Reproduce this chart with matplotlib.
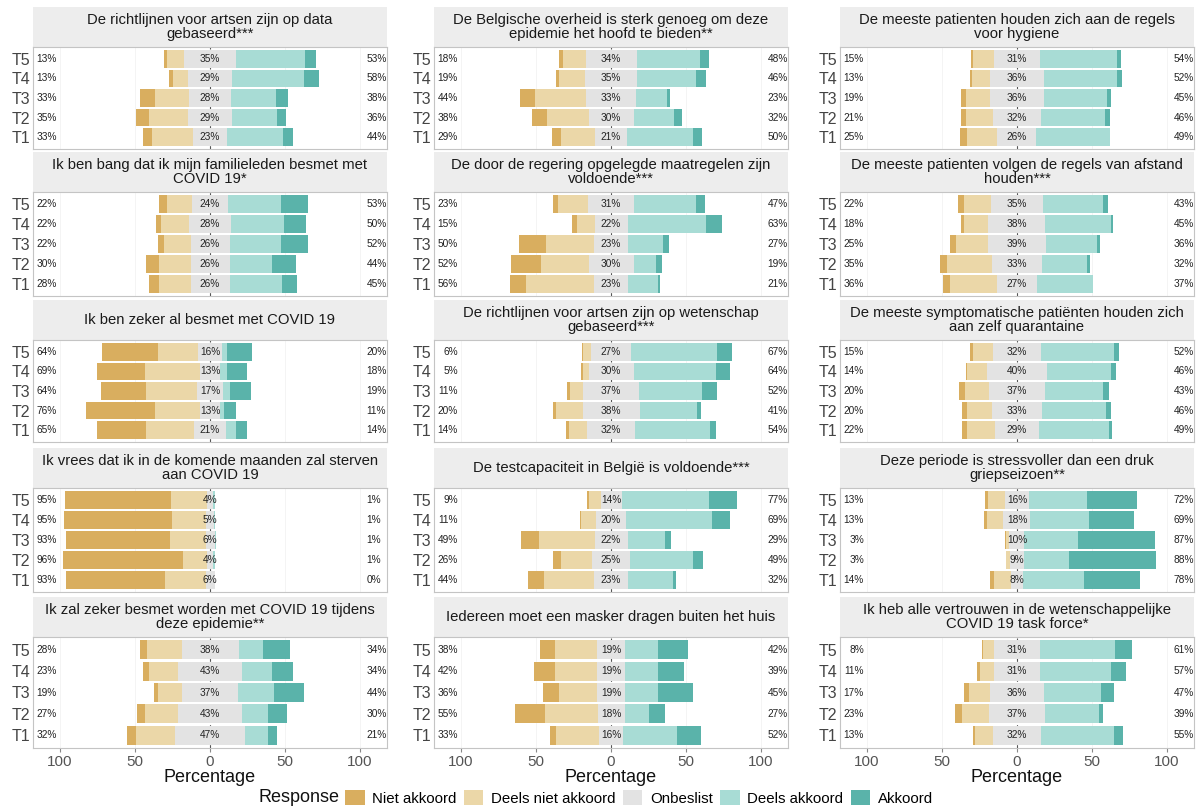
import matplotlib
matplotlib.use("Agg")
import matplotlib.pyplot as plt
from matplotlib.patches import Patch

plt.rcParams['font.family'] = ['Liberation Sans', 'DejaVu Sans']

# Survey waves (bottom to top) and response levels
waves = ["T1", "T2", "T3", "T4", "T5"]
levels = ["Niet akkoord", "Deels niet akkoord", "Onbeslist", "Deels akkoord", "Akkoord"]
level_colors = ["#D9AE5F", "#EBD7A8", "#E3E3E3", "#A8DCD5", "#5AB3AA"]

# Percentages per wave (rows T1..T5), columns follow `levels`
richtlijnen_data = [[6, 27, 23, 37, 7], [9, 26, 29, 30, 6], [10, 23, 28, 30, 8],
                    [3, 10, 29, 48, 10], [2, 11, 35, 46, 7]]
overheid_sterk = [[6, 23, 21, 44, 6], [10, 28, 30, 27, 5], [10, 34, 33, 21, 2],
                  [2, 17, 35, 39, 7], [3, 15, 34, 42, 6]]
regels_hygiene = [[5, 20, 26, 49, 0], [3, 18, 32, 43, 3], [3, 16, 36, 42, 3],
                  [1, 12, 36, 49, 3], [1, 14, 31, 51, 3]]
bang_familie = [[7, 21, 26, 35, 10], [9, 21, 26, 28, 16], [4, 18, 26, 34, 18],
                [3, 19, 28, 35, 15], [5, 17, 24, 35, 18]]
maatregelen_voldoende = [[11, 45, 23, 20, 1], [20, 32, 30, 15, 4], [18, 32, 23, 23, 4],
                         [3, 12, 22, 52, 11], [3, 20, 31, 41, 6]]
regels_afstand = [[5, 31, 27, 37, 0], [5, 30, 33, 30, 2], [4, 21, 39, 34, 2],
                  [2, 16, 38, 44, 1], [4, 18, 35, 40, 3]]
al_besmet = [[33, 32, 21, 7, 7], [46, 30, 13, 3, 8], [30, 34, 17, 5, 14],
             [32, 37, 13, 5, 13], [37, 27, 16, 3, 17]]
richtlijnen_wetenschap = [[2, 12, 32, 50, 4], [2, 18, 38, 38, 3], [2, 9, 37, 42, 10],
                          [1, 4, 30, 55, 9], [1, 5, 27, 57, 10]]
zelf_quarantaine = [[3, 19, 29, 47, 2], [3, 17, 33, 43, 3], [4, 16, 37, 39, 4],
                    [1, 13, 40, 43, 3], [2, 13, 32, 49, 3]]
vrees_sterven = [[66, 27, 6, 0, 0], [80, 16, 4, 1, 0], [69, 24, 6, 1, 0],
                 [72, 23, 5, 1, 0], [71, 24, 4, 1, 0]]
testcapaciteit = [[11, 33, 23, 30, 2], [5, 21, 25, 42, 7], [12, 37, 22, 25, 4],
                  [1, 10, 20, 57, 12], [1, 8, 14, 58, 19]]
stressvoller = [[3, 11, 8, 41, 37], [0, 3, 9, 30, 58], [1, 2, 10, 36, 51],
                [2, 11, 18, 39, 30], [2, 11, 16, 39, 33]]
zeker_besmet_worden = [[6, 26, 47, 15, 6], [5, 22, 43, 17, 13], [3, 16, 37, 24, 20],
                       [4, 19, 43, 20, 14], [5, 23, 38, 16, 18]]
masker_dragen = [[4, 29, 16, 36, 16], [20, 35, 18, 16, 11], [11, 25, 19, 22, 23],
                 [14, 28, 19, 22, 17], [10, 28, 19, 22, 20]]
vertrouwen_taskforce = [[1, 12, 32, 49, 6], [5, 18, 37, 36, 3], [3, 14, 36, 38, 9],
                        [2, 9, 31, 47, 10], [1, 7, 31, 50, 11]]

panel_titles = [
    "De richtlijnen voor artsen zijn op data\ngebaseerd***",
    "De Belgische overheid is sterk genoeg om deze\nepidemie het hoofd te bieden**",
    "De meeste patienten houden zich aan de regels\nvoor hygiene",
    "Ik ben bang dat ik mijn familieleden besmet met\nCOVID 19*",
    "De door de regering opgelegde maatregelen zijn\nvoldoende***",
    "De meeste patienten volgen de regels van afstand\nhouden***",
    "Ik ben zeker al besmet met COVID 19",
    "De richtlijnen voor artsen zijn op wetenschap\ngebaseerd***",
    "De meeste symptomatische patiënten houden zich\naan zelf quarantaine",
    "Ik vrees dat ik in de komende maanden zal sterven\naan COVID 19",
    "De testcapaciteit in België is voldoende***",
    "Deze periode is stressvoller dan een druk\ngriepseizoen**",
    "Ik zal zeker besmet worden met COVID 19 tijdens\ndeze epidemie**",
    "Iedereen moet een masker dragen buiten het huis",
    "Ik heb alle vertrouwen in de wetenschappelijke\nCOVID 19 task force*",
]
panel_data = [richtlijnen_data, overheid_sterk, regels_hygiene,
              bang_familie, maatregelen_voldoende, regels_afstand,
              al_besmet, richtlijnen_wetenschap, zelf_quarantaine,
              vrees_sterven, testcapaciteit, stressvoller,
              zeker_besmet_worden, masker_dragen, vertrouwen_taskforce]

x_ticks = [-100, -50, 0, 50, 100]
x_ticklabels = ["100", "50", "0", "50", "100"]

W, H = 1200, 807
fig = plt.figure(figsize=(W / 100, H / 100), dpi=100)

col_left = [33, 434, 840]
col_width = 354
strip_top = [7, 152, 300, 448, 597]
strip_h = 40
panel_h = [102, 104, 102, 104, 111]


def fig_box(x, y_top, w, h):
    return [x / W, 1 - (y_top + h) / H, w / W, h / H]


for idx, (title, rows) in enumerate(zip(panel_titles, panel_data)):
    r, c = divmod(idx, 3)
    x0 = col_left[c]

    # facet strip
    sax = fig.add_axes(fig_box(x0, strip_top[r], col_width, strip_h))
    sax.set_facecolor("#EDEDED")
    sax.set_xticks([])
    sax.set_yticks([])
    for s in sax.spines.values():
        s.set_visible(False)
    sax.text(0.5, 0.5, title, ha="center", va="center", fontsize=10.7,
             color="#1A1A1A", linespacing=1.05, transform=sax.transAxes)

    # diverging bars
    ax = fig.add_axes(fig_box(x0, strip_top[r] + strip_h, col_width, panel_h[r]))
    ypos = list(range(1, len(waves) + 1))
    for gx in (-100, -50, 50, 100):
        ax.axvline(gx, color="#F2F2F2", lw=0.6, zorder=0)
    ax.axvline(0, color="#555555", lw=0.8, ls=(0, (3, 3)), zorder=0.5)
    for y, vals in zip(ypos, rows):
        na, dna, neu, da, a = vals
        left = -(na + dna) - neu / 2
        for v, col in zip(vals, level_colors):
            if v > 0:
                ax.barh(y, v, left=left, height=0.9, color=col, edgecolor="none", zorder=2)
            left += v
        ax.text(-102, y, f"{na + dna}%", ha="right", va="center", fontsize=7.3,
                color="#222222", zorder=3)
        ax.text(0, y, f"{neu}%", ha="center", va="center", fontsize=7.3,
                color="#222222", zorder=3)
        ax.text(104.5, y, f"{da + a}%", ha="left", va="center", fontsize=7.3,
                color="#222222", zorder=3)
    ax.set_xlim(-118, 118)
    ax.set_ylim(0.4, 5.6)
    ax.set_yticks(ypos)
    ax.set_yticklabels(waves, fontsize=11.5, color="#444444")
    ax.tick_params(axis="y", length=0, pad=2)
    ax.set_xticks(x_ticks)
    for s in ax.spines.values():
        s.set_color("#C4C4C4")
        s.set_linewidth(0.8)
    if r == 4:
        ax.set_xticklabels(x_ticklabels, fontsize=11, color="#555555")
        ax.tick_params(axis="x", length=3, color="#888888", pad=2)
        ax.set_xlabel("Percentage", fontsize=13, color="#111111", labelpad=0)
    else:
        ax.tick_params(axis="x", length=0, labelbottom=False)

# legend along the bottom
fig.text(258 / W, 1 - 798 / H, "Response", fontsize=13, va="center", ha="left",
         color="#111111")
handles = [Patch(facecolor=cl, edgecolor="none") for cl in level_colors]
fig.legend(handles, levels, ncol=5, loc="center left",
           bbox_to_anchor=(345 / W, 1 - 798 / H), frameon=False, fontsize=10.8,
           handlelength=1.3, handleheight=1.1, handletextpad=0.5,
           columnspacing=0.5, borderaxespad=0, borderpad=0)

fig.savefig("out.png", dpi=100)
